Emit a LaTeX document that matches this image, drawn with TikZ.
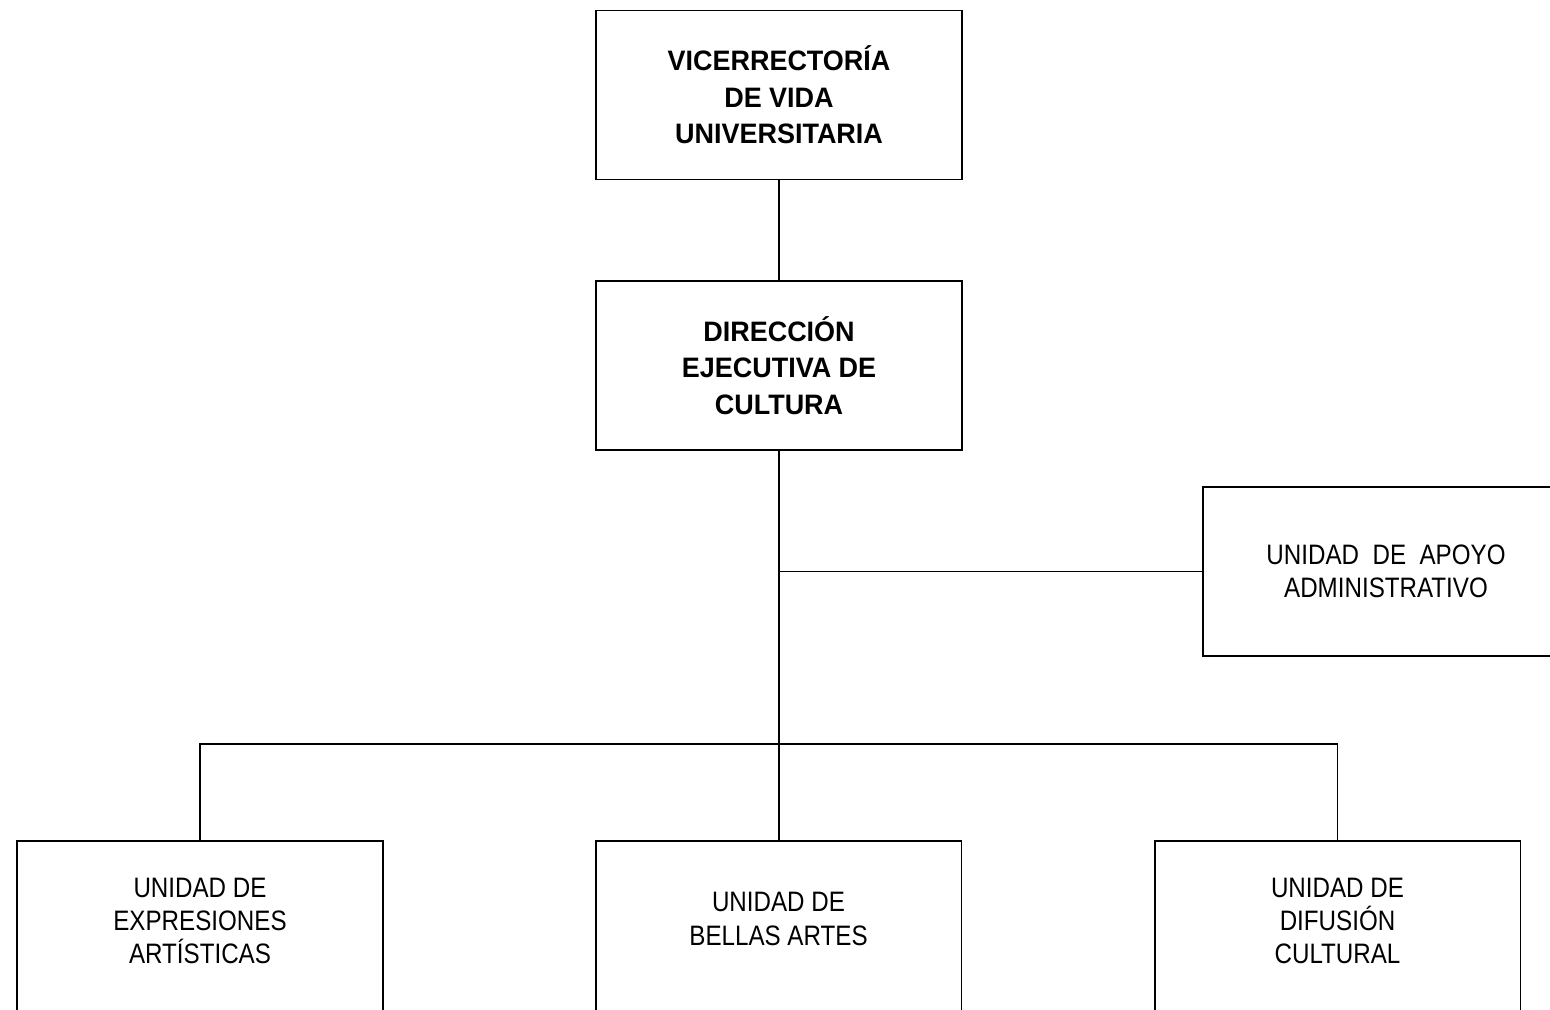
\documentclass[tikz,border=0pt]{standalone}
\usepackage{fontspec}
\usepackage{tikz}
\usetikzlibrary{positioning,calc}
\newfontfamily\headfont{Liberation Sans}[FakeStretch=0.96]
\newfontfamily\unitfont{Liberation Sans}[FakeStretch=0.86]
\tikzset{
  orgbox/.style={draw, line width=1.1pt, inner sep=0pt, outer sep=0pt,
    minimum width=7.32cm, minimum height=3.38cm, align=center},
  headbox/.style={orgbox, font=\headfont\bfseries\fontsize{16}{20.8}\selectfont},
  unitbox/.style={orgbox, font=\unitfont\fontsize{16}{19}\selectfont},
  lowbox/.style={orgbox, minimum height=3.6cm},
  unittext/.style={align=center, inner sep=0pt, font=\unitfont\fontsize{16}{19}\selectfont},
  orgline/.style={line width=1.1pt}
}
\begin{document}
\begin{tikzpicture}[x=0.02cm, y=-0.02cm]
        \useasboundingbox (0,0) rectangle (1550,1009);
        \clip (0,0) rectangle (1550,1009);

        % Direction
        \node[headbox] (vice) at (779,95) {VICERRECTOR\'IA\\DE VIDA\\UNIVERSITARIA};
        \node[headbox] (dir) at (779,365.5) {DIRECCI\'ON\\EJECUTIVA DE\\CULTURA};

        % Support unit
        \node[unitbox] (apoyo) at (1386,571.5) {UNIDAD~ DE~ APOYO\\ADMINISTRATIVO};

        % Units (open at the bottom edge)
        \node[lowbox] (expr) at (200,931) {};
        \node[lowbox] (bellas) at (778.5,931) {};
        \node[lowbox] (difus) at (1337.5,931) {};
        \node[unittext] (exprtxt) at ($(expr.north)+(0,80)$) {UNIDAD DE\\EXPRESIONES\\ART\'ISTICAS};
        \node[unittext] (bellastxt) at ($(bellas.north)+(0,78)$) {UNIDAD DE\\BELLAS ARTES};
        \node[unittext] (difustxt) at ($(difus.north)+(0,80)$) {UNIDAD DE\\DIFUSI\'ON\\CULTURAL};

        % Connections
        \coordinate (bus) at (779,744);
        \draw[orgline] (vice) -- (dir);
        \draw[orgline] (dir.south) -- (bellas.north -| dir.south);
        \draw[orgline] (apoyo.west) -- (apoyo.west -| dir.south);
        \draw[orgline] (expr.north) |- (bus) -| (difus.north);
    \end{tikzpicture}
\end{document}
